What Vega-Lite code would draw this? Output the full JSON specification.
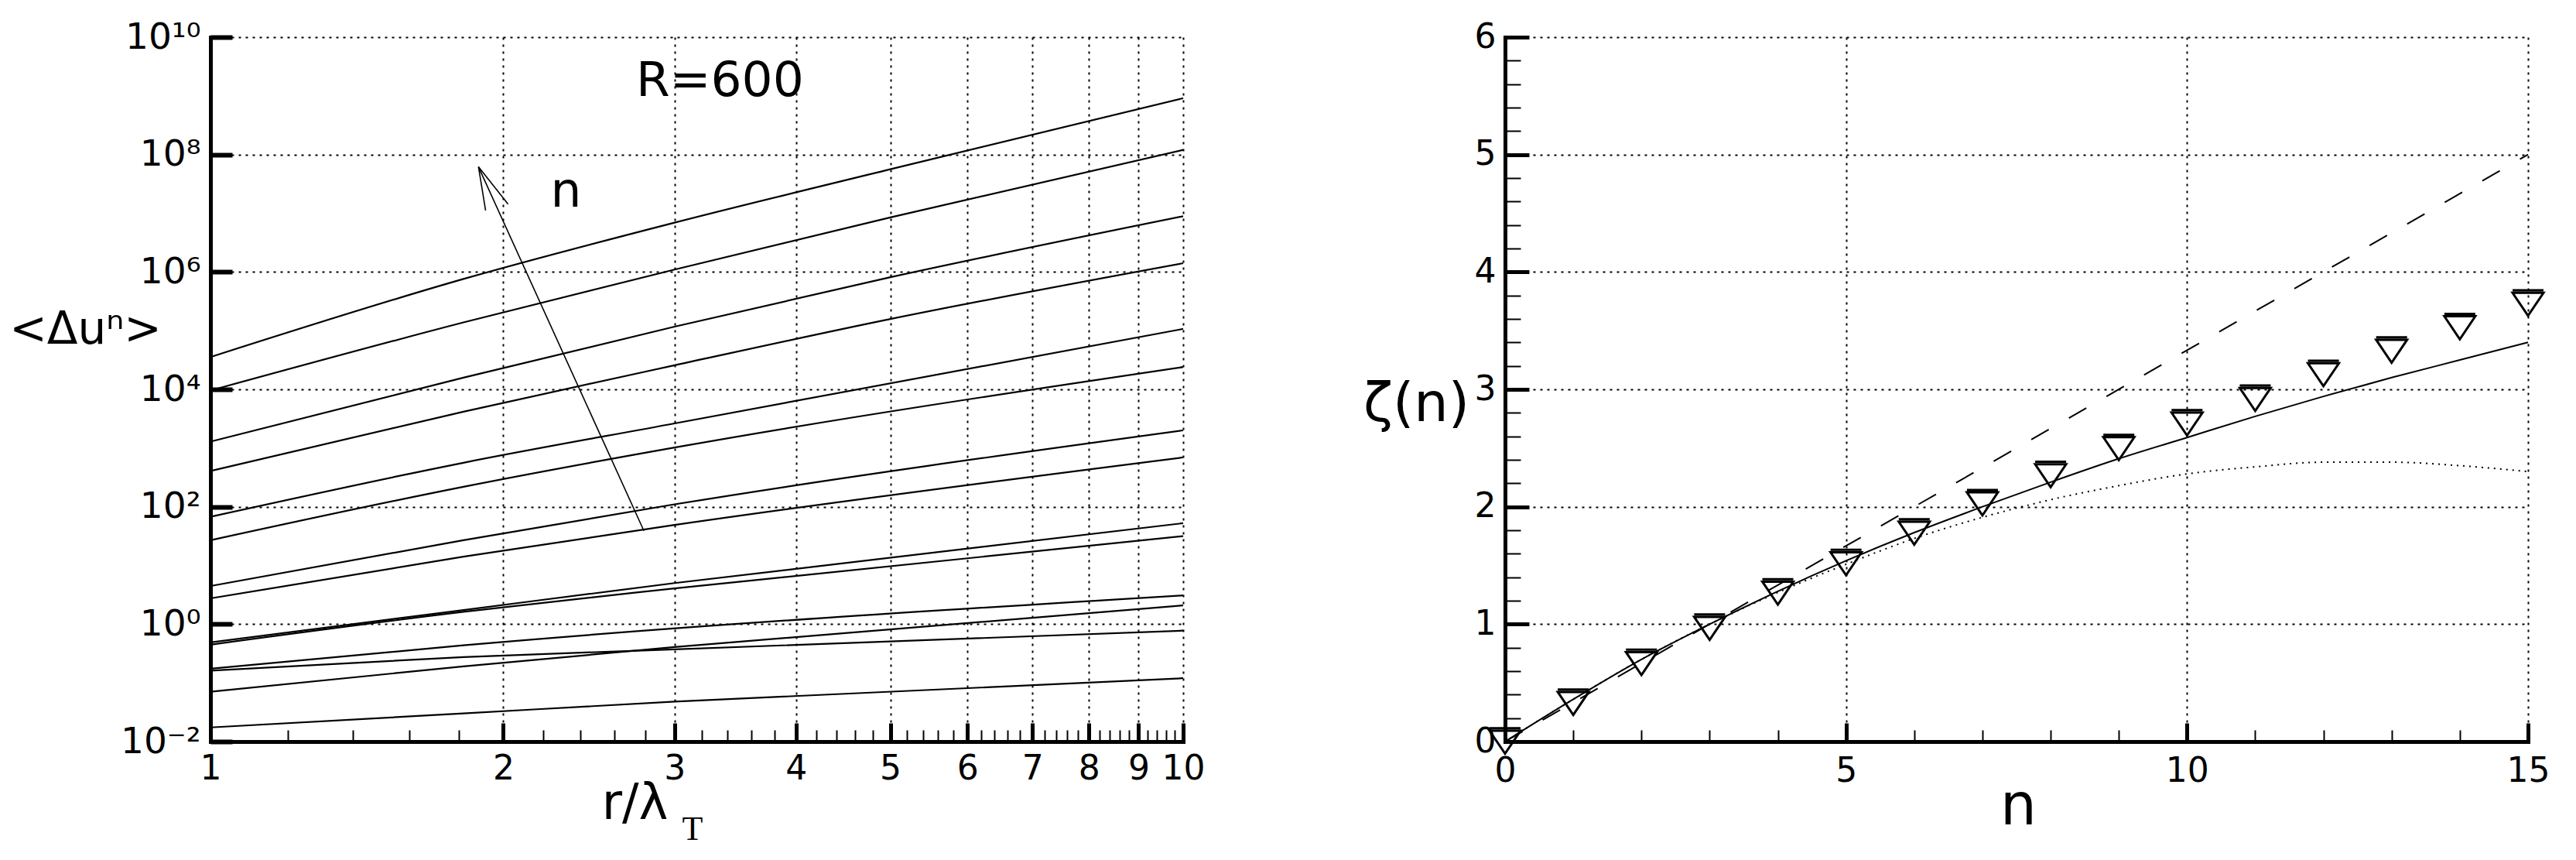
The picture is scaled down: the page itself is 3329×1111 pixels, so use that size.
{
  "$schema": "https://vega.github.io/schema/vega-lite/v6.json",
  "autosize": {"type": "none"},
  "padding": {"left": 272, "top": 48, "right": 3057, "bottom": 153},
  "background": "white",
  "bounds": "flush",
  "spacing": 416,
  "config": {
    "view": {"stroke": null},
    "font": "DejaVu Sans",
    "axis": {
      "domainColor": "black", "domainWidth": 5, "domainCap": "square",
      "tickColor": "black", "labelColor": "black", "titleColor": "black",
      "labelFont": "DejaVu Sans", "titleFont": "DejaVu Sans", "titleFontWeight": "normal",
      "gridColor": "black", "gridDash": [3, 6], "gridWidth": 2, "gridOpacity": 1,
      "labelFlush": false, "labelOverlap": false, "labelBound": false
    }
  },
  "hconcat": [
    {
      "width": 1257,
      "height": 910,
      "encoding": {
        "x": {
          "field": "r", "type": "quantitative",
          "scale": {"type": "log", "domain": [1, 10], "nice": false},
          "axis": {
            "values": [1,1.2,1.4,1.6,1.8,2,2.2,2.4,2.6,2.8,3,3.2,3.4,3.6,3.8,4,4.2,4.4,4.6,4.8,5,5.2,5.4,5.6,5.8,6,6.2,6.4,6.6,6.8,7,7.2,7.4,7.6,7.8,8,8.2,8.4,8.6,8.8,9,9.2,9.4,9.6,9.8,10],
            "grid": true,
            "gridOpacity": {"condition": {"test": "abs(datum.value - round(datum.value)) < 0.001", "value": 1}, "value": 0},
            "tickSize": {"condition": {"test": "abs(datum.value - round(datum.value)) < 0.001", "value": -24}, "value": -15},
            "tickWidth": {"condition": {"test": "abs(datum.value - round(datum.value)) < 0.001", "value": 5}, "value": 2},
            "labelExpr": "abs(datum.value - round(datum.value)) < 0.001 ? format(datum.value, 'd') : ''",
            "labelFontSize": 44,
            "labelPadding": 37,
            "title": "r/λ",
            "titleFontSize": 64,
            "titleX": 548,
            "titleY": 99,
            "titleAlign": "center",
            "titleBaseline": "alphabetic",
            "titleAnchor": "start"
          }
        },
        "y": {
          "field": "v", "type": "quantitative",
          "scale": {"type": "log", "domain": [0.01, 10000000000], "nice": false},
          "axis": {
            "values": [0.01, 1, 100, 10000, 1000000, 100000000, 10000000000],
            "grid": true,
            "tickSize": -28,
            "tickWidth": 6,
            "labelExpr": "datum.value < 0.1 ? '10⁻²' : datum.value < 10 ? '10⁰' : datum.value < 1000 ? '10²' : datum.value < 100000 ? '10⁴' : datum.value < 10000000 ? '10⁶' : datum.value < 1000000000 ? '10⁸' : '10¹⁰'",
            "labelFontSize": 47,
            "labelPadding": 41,
            "title": "<Δuⁿ>",
            "titleAngle": 0,
            "titleFontSize": 58,
            "titleX": -162,
            "titleY": 378,
            "titleAlign": "center",
            "titleBaseline": "middle",
            "titleAnchor": "start"
          }
        }
      },
      "layer": [
        {
          "data": {"values": [
            {"c":"L1","r":1,"v":35500},{"c":"L1","r":1.82,"v":759000},{"c":"L1","r":3,"v":6920000},{"c":"L1","r":5,"v":56200000},{"c":"L1","r":10,"v":912000000},
            {"c":"L2","r":1,"v":9550},{"c":"L2","r":1.82,"v":138000},{"c":"L2","r":3,"v":1100000},{"c":"L2","r":5,"v":8510000},{"c":"L2","r":10,"v":120000000},
            {"c":"L3","r":1,"v":1290},{"c":"L3","r":1.82,"v":15800},{"c":"L3","r":3,"v":117000},{"c":"L3","r":5,"v":813000},{"c":"L3","r":10,"v":8910000},
            {"c":"L4","r":1,"v":407},{"c":"L4","r":1.82,"v":4170},{"c":"L4","r":3,"v":25700},{"c":"L4","r":5,"v":158000},{"c":"L4","r":10,"v":1410000},
            {"c":"L5","r":1,"v":67.6},{"c":"L5","r":1.82,"v":562},{"c":"L5","r":3,"v":2630},{"c":"L5","r":10,"v":107000},
            {"c":"L6","r":1,"v":26.9},{"c":"L6","r":1.82,"v":219},{"c":"L6","r":3,"v":1020},{"c":"L6","r":10,"v":24000},
            {"c":"L7","r":1,"v":4.47},{"c":"L7","r":1.82,"v":26.9},{"c":"L7","r":3,"v":110},{"c":"L7","r":10,"v":2000},
            {"c":"L8","r":1,"v":2.75},{"c":"L8","r":1.82,"v":14.1},{"c":"L8","r":3,"v":49},{"c":"L8","r":10,"v":692},
            {"c":"L9","r":1,"v":0.49},{"c":"L9","r":1.82,"v":1.74},{"c":"L9","r":3,"v":5.01},{"c":"L9","r":10,"v":52.5},
            {"c":"L10","r":1,"v":0.447},{"c":"L10","r":1.82,"v":1.62},{"c":"L10","r":3,"v":4.07},{"c":"L10","r":10,"v":31.6},
            {"c":"L11","r":1,"v":0.174},{"c":"L11","r":1.82,"v":0.437},{"c":"L11","r":10,"v":3.09},
            {"c":"L12","r":1,"v":0.162},{"c":"L12","r":1.82,"v":0.275},{"c":"L12","r":3,"v":0.372},{"c":"L12","r":10,"v":0.776},
            {"c":"L13","r":1,"v":0.0708},{"c":"L13","r":1.82,"v":0.191},{"c":"L13","r":3,"v":0.407},{"c":"L13","r":10,"v":2.09},
            {"c":"L14","r":1,"v":0.0174},{"c":"L14","r":1.82,"v":0.0302},{"c":"L14","r":3,"v":0.0479},{"c":"L14","r":10,"v":0.12}
          ]},
          "mark": {"type": "line", "color": "black", "strokeWidth": 2.2, "interpolate": "monotone"},
          "encoding": {"detail": {"field": "c"}}
        },
        {
          "data": {"values": [
            {"s":"shaft","r":2.79,"v":38.9},{"s":"shaft","r":1.886,"v":61700000},
            {"s":"h1","r":1.886,"v":61700000},{"s":"h1","r":1.918,"v":11200000},
            {"s":"h2","r":1.886,"v":61700000},{"s":"h2","r":2.023,"v":14300000}
          ]},
          "mark": {"type": "line", "color": "black", "strokeWidth": 1.6},
          "encoding": {"detail": {"field": "s"}}
        },
        {
          "data": {"values": [
            {"t":"R=600","r":3.34,"v":1780000000},
            {"t":"n","r":2.32,"v":22900000}
          ]},
          "mark": {"type": "text", "fontSize": 63, "font": "DejaVu Sans", "color": "black", "align": "center", "baseline": "middle"},
          "encoding": {"text": {"field": "t"}}
        },
        {
          "data": {"values": [{"t":"T","r":3.13,"v":0.00021}]},
          "mark": {"type": "text", "fontSize": 44, "font": "Liberation Serif", "color": "black", "align": "center", "baseline": "alphabetic"},
          "encoding": {"text": {"field": "t"}}
        }
      ]
    },
    {
      "width": 1322,
      "height": 910,
      "encoding": {
        "x": {
          "field": "n", "type": "quantitative",
          "scale": {"domain": [0, 15], "nice": false, "zero": false},
          "axis": {
            "values": [0,1,2,3,4,5,6,7,8,9,10,11,12,13,14,15],
            "grid": true,
            "gridOpacity": {"condition": {"test": "datum.value % 5 === 0", "value": 1}, "value": 0},
            "tickSize": {"condition": {"test": "datum.value % 5 === 0", "value": -24}, "value": -15},
            "tickWidth": {"condition": {"test": "datum.value % 5 === 0", "value": 5}, "value": 2},
            "labelExpr": "datum.value % 5 === 0 ? format(datum.value, 'd') : ''",
            "labelFontSize": 44,
            "labelPadding": 40,
            "title": "n",
            "titleFontSize": 74,
            "titleX": 663,
            "titleY": 106,
            "titleAlign": "center",
            "titleBaseline": "alphabetic",
            "titleAnchor": "start"
          }
        },
        "y": {
          "field": "z", "type": "quantitative",
          "scale": {"domain": [0, 6], "nice": false},
          "axis": {
            "values": [0,0.2,0.4,0.6,0.8,1,1.2,1.4,1.6,1.8,2,2.2,2.4,2.6,2.8,3,3.2,3.4,3.6,3.8,4,4.2,4.4,4.6,4.8,5,5.2,5.4,5.6,5.8,6],
            "grid": true,
            "gridOpacity": {"condition": {"test": "abs(datum.value - round(datum.value)) < 0.001", "value": 1}, "value": 0},
            "tickSize": {"condition": {"test": "abs(datum.value - round(datum.value)) < 0.001", "value": -31}, "value": -20},
            "tickWidth": {"condition": {"test": "abs(datum.value - round(datum.value)) < 0.001", "value": 5}, "value": 2},
            "labelExpr": "abs(datum.value - round(datum.value)) < 0.001 ? format(datum.value, 'd') : ''",
            "labelFontSize": 44,
            "labelPadding": 43,
            "title": "ζ(n)",
            "titleAngle": 0,
            "titleFontSize": 70,
            "titleX": -115,
            "titleY": 474,
            "titleAlign": "center",
            "titleBaseline": "middle",
            "titleAnchor": "start"
          }
        }
      },
      "layer": [
        {
          "data": {"values": [{"n":0,"z":0},{"n":15,"z":5}]},
          "mark": {"type": "line", "color": "black", "strokeWidth": 2, "strokeDash": [26, 30]}
        },
        {
          "data": {"values": [
            {"n":0,"z":0},{"n":1,"z":0.36},{"n":2,"z":0.70},{"n":3,"z":1.0},{"n":4,"z":1.28},{"n":5,"z":1.54},{"n":6,"z":1.78},{"n":7,"z":2.0},
            {"n":8,"z":2.21},{"n":9,"z":2.41},{"n":10,"z":2.59},{"n":11,"z":2.77},{"n":12,"z":2.94},{"n":13,"z":3.10},{"n":14,"z":3.25},{"n":15,"z":3.40}
          ]},
          "mark": {"type": "line", "color": "black", "strokeWidth": 2, "interpolate": "monotone"}
        },
        {
          "data": {"values": [
            {"n":0,"z":0},{"n":1,"z":0.36},{"n":2,"z":0.70},{"n":3,"z":1.0},{"n":4,"z":1.27},{"n":5,"z":1.51},{"n":6,"z":1.73},{"n":7,"z":1.91},
            {"n":8,"z":2.06},{"n":9,"z":2.18},{"n":10,"z":2.28},{"n":11,"z":2.34},{"n":12,"z":2.38},{"n":13,"z":2.38},{"n":14,"z":2.35},{"n":15,"z":2.30}
          ]},
          "mark": {"type": "line", "color": "black", "strokeWidth": 2, "strokeDash": [2, 6], "interpolate": "monotone"}
        },
        {
          "data": {"values": [
            {"n":0,"z":0},{"n":1,"z":0.33},{"n":2,"z":0.67},{"n":3,"z":0.97},{"n":4,"z":1.27},{"n":5,"z":1.52},{"n":6,"z":1.78},{"n":7,"z":2.03},
            {"n":8,"z":2.27},{"n":9,"z":2.50},{"n":10,"z":2.71},{"n":11,"z":2.92},{"n":12,"z":3.13},{"n":13,"z":3.33},{"n":14,"z":3.53},{"n":15,"z":3.73}
          ]},
          "mark": {"type": "point", "shape": "M-1,-0.7L1,-0.7L0,0.78Z M-1,-0.86L1,-0.86", "size": 1600, "filled": false, "stroke": "black", "strokeWidth": 3, "opacity": 1}
        }
      ]
    }
  ]
}
